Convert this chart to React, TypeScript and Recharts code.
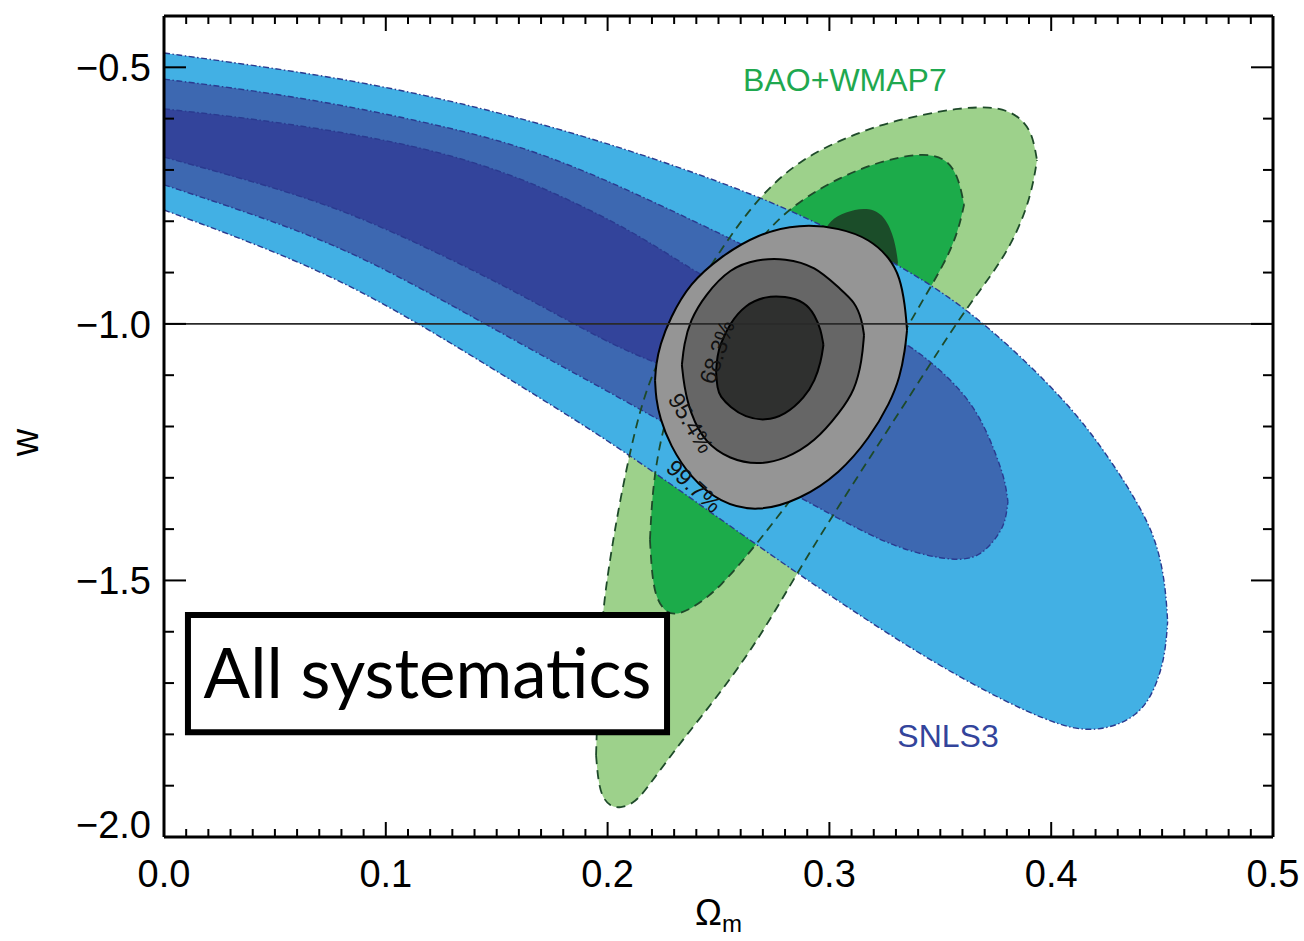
import { Area, ComposedChart, ReferenceArea, ReferenceDot, ReferenceLine, XAxis, YAxis } from "recharts";

// each contour row: [Omega_m, w lower edge, w upper edge]
type Row = [number, number, number];

const snlsOuter: Row[] = [
  [0, -0.778, -0.472],
  [0.04, -0.842, -0.496],
  [0.08, -0.915, -0.522],
  [0.12, -1.012, -0.556],
  [0.16, -1.119, -0.598],
  [0.2, -1.226, -0.648],
  [0.24, -1.347, -0.706],
  [0.28, -1.47, -0.772],
  [0.32, -1.587, -0.858],
  [0.36, -1.694, -0.958],
  [0.4, -1.78, -1.119],
  [0.42, -1.798, -1.221],
  [0.44, -1.766, -1.353],
  [0.448, -1.7, -1.43],
  [0.4515, -1.64, -1.51],
  [0.4525, -1.58, -1.58],
];

const snlsMid: Row[] = [
  [0, -0.729, -0.523],
  [0.04, -0.786, -0.545],
  [0.08, -0.85, -0.573],
  [0.12, -0.94, -0.609],
  [0.16, -1.037, -0.651],
  [0.2, -1.131, -0.72],
  [0.24, -1.228, -0.802],
  [0.28, -1.322, -0.885],
  [0.32, -1.418, -1.002],
  [0.34, -1.449, -1.051],
  [0.36, -1.464, -1.129],
  [0.37, -1.447, -1.197],
  [0.3778, -1.402, -1.285],
  [0.3796, -1.377, -1.318],
  [0.3805, -1.347, -1.347],
];

const snlsInner: Row[] = [
  [0, -0.675, -0.581],
  [0.04, -0.722, -0.6],
  [0.08, -0.776, -0.626],
  [0.12, -0.854, -0.659],
  [0.16, -0.94, -0.712],
  [0.2, -1.037, -0.794],
  [0.22, -1.073, -0.844],
  [0.24, -1.106, -0.899],
  [0.26, -1.119, -0.95],
  [0.28, -1.117, -0.998],
  [0.3, -1.094, -1.051],
  [0.305, -1.071, -1.071],
];

const baoOuter: Row[] = [
  [0.1948, -1.8405, -1.8405],
  [0.1957, -1.889, -1.714],
  [0.1975, -1.922, -1.568],
  [0.2011, -1.94, -1.457],
  [0.2056, -1.944, -1.343],
  [0.2124, -1.934, -1.203],
  [0.2191, -1.897, -1.104],
  [0.2326, -1.817, -0.983],
  [0.2507, -1.72, -0.856],
  [0.2687, -1.611, -0.749],
  [0.2867, -1.476, -0.681],
  [0.3048, -1.351, -0.642],
  [0.3228, -1.23, -0.612],
  [0.3408, -1.11, -0.593],
  [0.3589, -0.987, -0.579],
  [0.3724, -0.909, -0.577],
  [0.3814, -0.85, -0.585],
  [0.3882, -0.784, -0.607],
  [0.3918, -0.729, -0.636],
  [0.3936, -0.681, -0.681],
];

const baoMid: Row[] = [
  [0.2191, -1.421, -1.421],
  [0.22, -1.49, -1.343],
  [0.2218, -1.533, -1.275],
  [0.2254, -1.558, -1.197],
  [0.2295, -1.568, -1.145],
  [0.2372, -1.558, -1.061],
  [0.2507, -1.515, -0.954],
  [0.2687, -1.421, -0.827],
  [0.2867, -1.32, -0.759],
  [0.3048, -1.211, -0.714],
  [0.3228, -1.1, -0.683],
  [0.3408, -0.963, -0.667],
  [0.3521, -0.881, -0.675],
  [0.358, -0.821, -0.71],
  [0.3607, -0.768, -0.768],
];

const baoInner: Row[] = [
  [0.2967, -0.827, -0.827],
  [0.3003, -0.876, -0.798],
  [0.307, -0.905, -0.782],
  [0.317, -0.924, -0.772],
  [0.3251, -0.924, -0.788],
  [0.3296, -0.911, -0.837],
  [0.3309, -0.88, -0.88],
];

const allOuter: Row[] = [
  [0.2214, -1.11, -1.11],
  [0.2218, -1.145, -1.08],
  [0.2236, -1.184, -1.041],
  [0.2281, -1.236, -0.989],
  [0.2372, -1.299, -0.92],
  [0.2507, -1.349, -0.87],
  [0.2674, -1.367, -0.825],
  [0.2867, -1.343, -0.805],
  [0.3048, -1.291, -0.813],
  [0.3183, -1.221, -0.835],
  [0.3273, -1.154, -0.872],
  [0.3318, -1.104, -0.909],
  [0.3341, -1.051, -0.963],
  [0.335, -1.012, -1.012],
];

const allMid: Row[] = [
  [0.2335, -1.08, -1.08],
  [0.2344, -1.119, -1.041],
  [0.2372, -1.174, -0.993],
  [0.2439, -1.232, -0.944],
  [0.2552, -1.264, -0.891],
  [0.2674, -1.275, -0.874],
  [0.28, -1.264, -0.872],
  [0.2935, -1.23, -0.887],
  [0.3048, -1.172, -0.932],
  [0.3115, -1.129, -0.957],
  [0.3147, -1.071, -0.993],
  [0.3156, -1.022, -1.022],
];

const allInner: Row[] = [
  [0.2489, -1.094, -1.094],
  [0.2495, -1.127, -1.061],
  [0.2507, -1.141, -1.041],
  [0.2552, -1.162, -0.998],
  [0.262, -1.182, -0.963],
  [0.271, -1.189, -0.946],
  [0.28, -1.178, -0.946],
  [0.289, -1.143, -0.957],
  [0.2935, -1.11, -0.983],
  [0.2962, -1.074, -1.012],
  [0.2973, -1.041, -1.041],
];

const xMajorTicks = [0, 0.1, 0.2, 0.3, 0.4, 0.5];
const yMajorTicks = [-2.0, -1.5, -1.0, -0.5];
const xTicks = Array.from({ length: 51 }, (_, i) => i / 100);
const yTicks = Array.from({ length: 17 }, (_, i) => (-20 + i) / 10);

const FONT = "'Liberation Sans', Arial, Helvetica, sans-serif";

const toData = (rows: Row[]) => rows.map(([x, lo, hi]) => ({ x, w: [lo, hi] }));

const isMajor = (v: number, majors: number[]) => majors.some((m) => Math.abs(m - v) < 1e-6);

function BottomTick(props: any) {
  const { x, y, payload } = props;
  const v = payload.value as number;
  const major = isMajor(v, xMajorTicks);
  return (
    <g>
      <line x1={x} y1={y} x2={x} y2={y - (major ? 15 : 8)} stroke="#000" strokeWidth={2} />
      {major && (
        <text x={x} y={y + 50} textAnchor="middle" fontSize={38} fontFamily={FONT} fill="#000">
          {v.toFixed(1)}
        </text>
      )}
    </g>
  );
}

function TopTick(props: any) {
  const { x, y, payload } = props;
  const major = isMajor(payload.value, xMajorTicks);
  return <line x1={x} y1={y} x2={x} y2={y + (major ? 15 : 8)} stroke="#000" strokeWidth={2} />;
}

function LeftTick(props: any) {
  const { x, y, payload } = props;
  const v = payload.value as number;
  const major = isMajor(v, yMajorTicks);
  // the lowest label sits a little higher so it clears the x labels
  const nudge = v < -1.99 ? -13 : 0;
  return (
    <g>
      <line x1={x} y1={y} x2={x + (major ? 22 : 10)} y2={y} stroke="#000" strokeWidth={2} />
      {major && (
        <text x={x - 13} y={y + 14 + nudge} textAnchor="end" fontSize={38} fontFamily={FONT} fill="#000">
          {"\u2212" + Math.abs(v).toFixed(1)}
        </text>
      )}
    </g>
  );
}

function RightTick(props: any) {
  const { x, y, payload } = props;
  const major = isMajor(payload.value, yMajorTicks);
  return <line x1={x} y1={y} x2={x - (major ? 22 : 10)} y2={y} stroke="#000" strokeWidth={2} />;
}

const blueEdge = { stroke: "#2a3a8f", strokeWidth: 1.4, strokeDasharray: "6 2.5 1.5 2.5" };
const greenEdge = { stroke: "#1e4a2a", strokeWidth: 1.8, strokeDasharray: "9 6" };

export default function App() {
  const common = {
    dataKey: "w",
    type: "basis" as const,
    isAnimationActive: false,
    dot: false,
    activeDot: false,
    fillOpacity: 1,
  };
  return (
    <div style={{ position: "absolute", left: 0, top: 0 }}>
      <ComposedChart width={1304} height={941} margin={{ top: 10, right: 21, bottom: 44, left: 64 }}>
        <XAxis
          type="number"
          dataKey="x"
          domain={[0, 0.5]}
          allowDataOverflow
          ticks={xTicks}
          interval={0}
          tick={(p: any) => <BottomTick {...p} />}
          tickLine={false}
          tickSize={0}
          tickMargin={0}
          axisLine={{ stroke: "#000", strokeWidth: 3 }}
          height={60}
          label={{
            content: ({ viewBox }: any) => (
              <text
                x={viewBox.x + viewBox.width / 2}
                y={925}
                textAnchor="middle"
                fontSize={36}
                fontFamily={FONT}
                fill="#000"
              >
                <tspan>Ω</tspan>
                <tspan fontSize={24} dy={7}>
                  m
                </tspan>
              </text>
            ),
          }}
        />
        <XAxis
          xAxisId="top"
          orientation="top"
          type="number"
          dataKey="x"
          domain={[0, 0.5]}
          allowDataOverflow
          ticks={xTicks}
          interval={0}
          tick={(p: any) => <TopTick {...p} />}
          tickLine={false}
          tickSize={0}
          tickMargin={0}
          axisLine={{ stroke: "#000", strokeWidth: 3 }}
          height={6}
        />
        <YAxis
          type="number"
          domain={[-2.0, -0.4]}
          allowDataOverflow
          ticks={yTicks}
          interval={0}
          tick={(p: any) => <LeftTick {...p} />}
          tickLine={false}
          tickSize={0}
          tickMargin={0}
          axisLine={{ stroke: "#000", strokeWidth: 3 }}
          width={100}
          label={{
            content: ({ viewBox }: any) => {
              const cx = viewBox.x - 26;
              const cy = viewBox.y + viewBox.height / 2 + 16;
              return (
                <text
                  x={cx}
                  y={cy}
                  transform={`rotate(-90 ${cx} ${cy})`}
                  textAnchor="middle"
                  fontSize={38}
                  fontFamily={FONT}
                  fill="#000"
                >
                  w
                </text>
              );
            },
          }}
        />
        <YAxis
          yAxisId="right"
          orientation="right"
          type="number"
          domain={[-2.0, -0.4]}
          allowDataOverflow
          ticks={yTicks}
          interval={0}
          tick={(p: any) => <RightTick {...p} />}
          tickLine={false}
          tickSize={0}
          tickMargin={0}
          axisLine={{ stroke: "#000", strokeWidth: 3 }}
          width={10}
        />

        {/* BAO+WMAP7 fills, underneath the SNLS3 bands */}
        <Area {...common} data={toData(baoOuter)} fill="#9dd18b" stroke="none" />
        <Area {...common} data={toData(baoMid)} fill="#1cab4a" stroke="none" />
        <Area {...common} data={toData(baoInner)} fill="#1b4d29" stroke="none" />

        {/* SNLS3 */}
        <Area {...common} data={toData(snlsOuter)} fill="#42b0e4" {...blueEdge} />
        <Area {...common} data={toData(snlsMid)} fill="#3d68b1" {...blueEdge} />
        <Area {...common} data={toData(snlsInner)} fill="#33449b" {...blueEdge} />

        {/* BAO+WMAP7 dashed outlines drawn over the blue */}
        <Area {...common} data={toData(baoOuter)} fill="none" {...greenEdge} />
        <Area {...common} data={toData(baoMid)} fill="none" {...greenEdge} />

        {/* combined constraints */}
        <Area {...common} data={toData(allOuter)} fill="#959595" stroke="#000" strokeWidth={2} />
        <Area {...common} data={toData(allMid)} fill="#666666" stroke="#000" strokeWidth={2} />
        <Area {...common} data={toData(allInner)} fill="#2f302f" stroke="#000" strokeWidth={2} />

        <ReferenceLine y={-1} stroke="#2a2a2a" strokeWidth={1.6} />

        <ReferenceDot
          x={0.2493}
          y={-1.055}
          r={0}
          fill="none"
          stroke="none"
          label={{ value: "68.3%", position: "center", angle: -71, fontSize: 23, fill: "#111", fontFamily: FONT }}
        />
        <ReferenceDot
          x={0.2376}
          y={-1.193}
          r={0}
          fill="none"
          stroke="none"
          label={{ value: "95.4%", position: "center", angle: 59, fontSize: 23, fill: "#111", fontFamily: FONT }}
        />
        <ReferenceDot
          x={0.239}
          y={-1.316}
          r={0}
          fill="none"
          stroke="none"
          label={{ value: "99.7%", position: "center", angle: 43, fontSize: 23, fill: "#111", fontFamily: FONT }}
        />
        <ReferenceDot
          x={0.307}
          y={-0.5248}
          r={0}
          fill="none"
          stroke="none"
          label={{ value: "BAO+WMAP7", position: "center", fontSize: 32, fill: "#1fa84f", fontFamily: FONT }}
        />
        <ReferenceDot
          x={0.3535}
          y={-1.8016}
          r={0}
          fill="none"
          stroke="none"
          label={{ value: "SNLS3", position: "center", fontSize: 32, fill: "#33449b", fontFamily: FONT }}
        />

        <ReferenceArea
          x1={0.0108}
          x2={0.2268}
          y1={-1.5676}
          y2={-1.7957}
          fill="#fff"
          fillOpacity={1}
          stroke="#000"
          strokeWidth={6}
          label={{ value: "All systematics", position: "center", fontSize: 69, fill: "#000", fontFamily: "Lato, sans-serif" }}
        />
      </ComposedChart>
    </div>
  );
}
